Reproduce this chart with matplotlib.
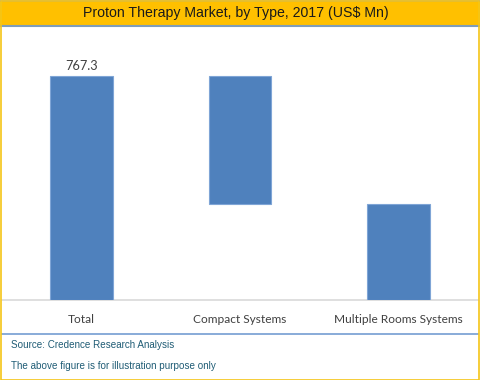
import matplotlib
matplotlib.use("Agg")
import matplotlib.pyplot as plt
from matplotlib.patches import Rectangle
from matplotlib.lines import Line2D

categories = ["Total", "Compact Systems", "Multiple Rooms Systems"]
total_value = 767.3
segment_values = [438.5, 328.8]  # Compact Systems, Multiple Rooms Systems
title = "Proton Therapy Market, by Type, 2017 (US$ Mn)"
source_text = "Source: Credence Research Analysis"
note_text = "The above figure is for illustration purpose only"

W, H = 480, 380
fig = plt.figure(figsize=(W / 100, H / 100), dpi=100)
fig.patch.set_facecolor("white")

def fx(px):
    return px / W

def fy(py):
    return 1 - py / H

# waterfall data
heights = [total_value] + segment_values
bottoms = [0, total_value - segment_values[0], 0]

ax = fig.add_axes([fx(2), fy(300), fx(476), (300 - 40) / H])
bar_color = "#4F81BD"
ax.bar(range(len(categories)), heights, bottom=bottoms, width=0.395,
       color=bar_color, edgecolor="#7FA5D6", linewidth=0.8, zorder=3)
ax.set_xlim(-0.5, 2.5)
ax.set_ylim(0, total_value * 260 / 224)
ax.set_yticks([])
ax.set_xticks(range(len(categories)))
ax.set_xticklabels(categories, fontsize=8.6, color="#404040", family="Lato")
ax.tick_params(axis="x", length=0, pad=10)
for s in ["top", "right", "left"]:
    ax.spines[s].set_visible(False)
ax.spines["bottom"].set_color("#D9D9D9")
ax.spines["bottom"].set_linewidth(1.2)
ax.text(0, total_value + 12, f"{total_value:.1f}", ha="center", va="bottom",
        fontsize=9.2, color="#404040", family="Lato")

# title band
fig.patches.append(Rectangle((fx(0), fy(26)), 1, (26 - 1) / H,
                             transform=fig.transFigure, facecolor="#FFC000",
                             edgecolor="none", zorder=0))
fig.lines.append(Line2D([0, 1], [fy(1), fy(1)], transform=fig.transFigure,
                        color="#8C9AA8", linewidth=1.2))
fig.lines.append(Line2D([0, 1], [fy(26), fy(26)], transform=fig.transFigure,
                        color="#7F9DB9", linewidth=1.5))
fig.text(fx(236), fy(13.5), title, ha="center", va="center", fontsize=10.2,
         color="#1a1a1a", family="Liberation Sans")

# separator line
fig.lines.append(Line2D([fx(2), fx(478)], [fy(334), fy(334)], transform=fig.transFigure,
                        color="#7FA5D6", linewidth=1.3))
fig.text(fx(11), fy(345), source_text, ha="left", va="center", fontsize=7.1,
         color="#1F5C75", family="Liberation Sans")
fig.text(fx(11), fy(366), note_text, ha="left", va="center", fontsize=7.1,
         color="#1F5C75", family="Liberation Sans")

# yellow outer border
fig.patches.append(Rectangle((fx(0.5), fy(379.5)), fx(478), (379) / H,
                             transform=fig.transFigure, facecolor="none",
                             edgecolor="#F5C518", linewidth=1.2, zorder=5))

fig.savefig("out.png", dpi=100)
